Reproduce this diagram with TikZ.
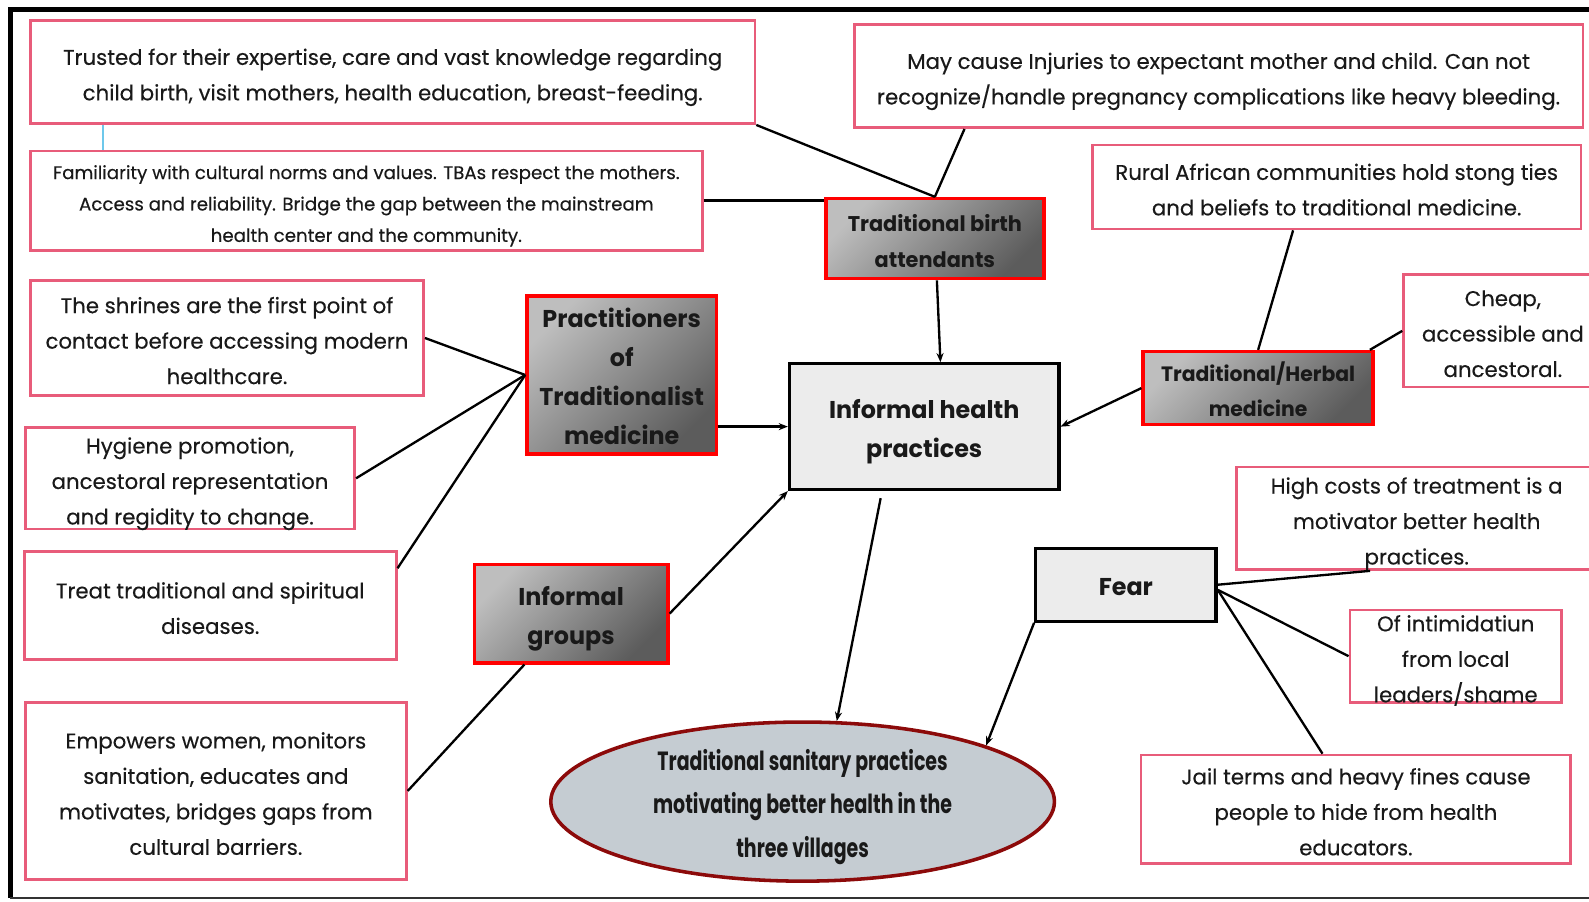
\documentclass[tikz,border=0pt]{standalone}
\usepackage{fontspec}
\setmainfont{Poppins}[FakeBold=0.3]
\newfontfamily\boldf{Poppins}[FakeStretch=0.98]
\newfontfamily\condf{Poppins}[FakeStretch=0.72]
\usetikzlibrary{shapes.geometric,arrows.meta}
\definecolor{pinkc}{RGB}{232,92,122}
\definecolor{ellfill}{RGB}{197,204,210}
\definecolor{ellline}{RGB}{140,10,10}
\definecolor{lightboxc}{RGB}{236,236,236}
\definecolor{bluel}{RGB}{110,200,235}
\definecolor{gradl}{RGB}{190,190,190}
\definecolor{gradd}{RGB}{92,92,92}
\newcommand{\tabtxt}[1]{\raisebox{-3.5pt}[\height][\depth]{\begin{tabular}{@{}c@{}}#1\end{tabular}}}
\begin{document}
\begin{tikzpicture}[x=1pt,y=-1pt,
  pinkbox/.style={draw=pinkc,line width=2.6pt,fill=white,inner sep=-10pt,text=black!90,font=\fontsize{21}{35}\selectfont},
  darkbox/.style={draw=red,line width=3.5pt,top color=gradl,bottom color=gradd,shading angle=45,inner sep=-10pt,text=black!90,font=\boldf\bfseries\fontsize{23}{38}\selectfont},
  lightbox/.style={draw=black,line width=3.2pt,fill=lightboxc,inner sep=-10pt,text=black!90,font=\boldf\bfseries\fontsize{24}{38}\selectfont},
  conn/.style={line width=2.3pt},
  arr/.style={conn,-{Stealth[length=9pt,width=7pt]}}]
\useasboundingbox (0,0) rectangle (1568,890);
% frame
\draw[line width=5pt] (1600,9) -- (10,9) -- (10,886);
\draw[line width=2.5pt,black!80] (10,886) -- (1600,886);
% pink boxes
\node[pinkbox,minimum width=715pt,minimum height=102pt] (A) at (387.5,71) {\tabtxt{Trusted for their expertise, care and vast knowledge regarding\\child birth, visit mothers, health education, breast-feeding.}};
\node[pinkbox,minimum width=663pt,minimum height=98pt,font=\fontsize{18}{31}\selectfont] (B) at (361.5,198) {\tabtxt{Familiarity with cultural norms and values. TBAs respect the mothers.\\Access and reliability. Bridge the gap between the mainstream\\health center and the community.}};
\node[pinkbox,minimum width=719pt,minimum height=102pt] (C) at (1202.5,75) {\tabtxt{May cause Injuries to expectant mother and child. Can not\\recognize/handle pregnancy complications like heavy bleeding.}};
\node[pinkbox,minimum width=482pt,minimum height=83pt] (D) at (1319,184.5) {\tabtxt{Rural African communities hold stong ties\\and beliefs to traditional medicine.}};
\node[pinkbox,minimum width=196pt,minimum height=111pt] (E) at (1483,326.5) {\tabtxt{Cheap,\\accessible and\\ancestoral.}};
\node[pinkbox,minimum width=388pt,minimum height=113pt] (F) at (224,333.5) {\tabtxt{The shrines are the first point of\\contact before accessing modern\\healthcare.}};
\node[pinkbox,minimum width=325pt,minimum height=100pt] (G) at (187.5,472) {\tabtxt{Hygiene promotion,\\ancestoral representation\\and regidity to change.}};
\node[pinkbox,minimum width=367pt,minimum height=107pt] (H) at (207.5,597.5) {\tabtxt{Treat traditional and spiritual\\diseases.}};
\node[pinkbox,minimum width=376pt,minimum height=175pt] (I) at (213,780.5) {\tabtxt{Empowers women, monitors\\sanitation, educates and\\motivates, bridges gaps from\\cultural barriers.}};
\node[pinkbox,minimum width=356pt,minimum height=101pt] (J) at (1398,511.5) {\tabtxt{High costs of treatment is a\\motivator better health\\practices.}};
\node[pinkbox,minimum width=209pt,minimum height=91pt] (K) at (1436.5,647.5) {\tabtxt{Of intimidatiun\\from local\\leaders/shame}};
\node[pinkbox,minimum width=424pt,minimum height=107pt] (L) at (1338,798.5) {\tabtxt{Jail terms and heavy fines cause\\people to hide from health\\educators.}};
% dark boxes
\node[darkbox,minimum width=215pt,minimum height=79pt,font=\boldf\bfseries\fontsize{21}{36}\selectfont] (TBA) at (922.5,235.5) {\tabtxt{Traditional birth\\attendants}};
\node[darkbox,minimum width=187pt,minimum height=156pt,font=\boldf\bfseries\fontsize{24}{38.5}\selectfont] (PTM) at (613.5,370) {\tabtxt{Practitioners\\of\\Traditionalist\\medicine}};
\node[darkbox,minimum width=191pt,minimum height=97pt,font=\boldf\bfseries\fontsize{24}{39}\selectfont] (IG) at (563.5,605.5) {\tabtxt{Informal\\groups}};
\node[darkbox,minimum width=227pt,minimum height=72pt,font=\boldf\bfseries\fontsize{20.5}{35}\selectfont] (THM) at (1241.5,383) {\tabtxt{Traditional/Herbal\\medicine}};
% light boxes
\node[lightbox,minimum width=266pt,minimum height=124pt] (IHP) at (912,421) {\tabtxt{Informal health\\practices}};
\node[lightbox,minimum width=178pt,minimum height=72pt] (Fear) at (1111,577) {\tabtxt{Fear}};
% ellipse
\node[ellipse,draw=ellline,line width=3.5pt,fill=ellfill,minimum width=497pt,minimum height=157pt,inner sep=-30pt,text=black!90,font=\condf\bfseries\fontsize{26}{43}\selectfont] (ELL) at (792,791) {\tabtxt{Traditional sanitary practices\\motivating better health in the\\three villages}};
% connectors
\draw[bluel,line width=2.5pt] ([xshift=73pt]A.south west) -- ([xshift=73pt]B.north west);
\draw[conn] (A.south east) -- (TBA.north);
\draw[conn] ([xshift=110pt]C.south west) -- (TBA.north);
\draw[conn] (B.east) -- (B.east -| TBA.west);
\draw[arr] ([xshift=2pt]TBA.south) -- ([xshift=16pt]IHP.north);
\draw[conn] (F.east) -- (PTM.west);
\draw[conn] (G.east) -- (PTM.west);
\draw[conn] ([yshift=-18pt]H.north east) -- (PTM.west);
\draw[arr] (PTM.east |- IHP.west) -- (IHP.west);
\draw[arr] (IG.east) -- (IHP.south west);
\draw[conn] (I.east) -- ([xshift=-46pt]IG.south);
\draw[conn] ([xshift=-43pt]D.south) -- (THM.north);
\draw[conn] (E.west) -- ([xshift=-5pt]THM.north east);
\draw[arr] (THM.west) -- (IHP.east);
\draw[arr] ([xshift=-43pt,yshift=-7pt]IHP.south) -- (ELL.67);
\draw[arr] (Fear.south west) -- (ELL.17);
\draw[conn] (Fear.east) -- ([xshift=-46pt]J.south);
\draw[conn] ([yshift=-5pt]Fear.east) -- (K.west);
\draw[conn] ([yshift=-5pt]Fear.east) -- ([xshift=-33pt]L.north);
\end{tikzpicture}
\end{document}
